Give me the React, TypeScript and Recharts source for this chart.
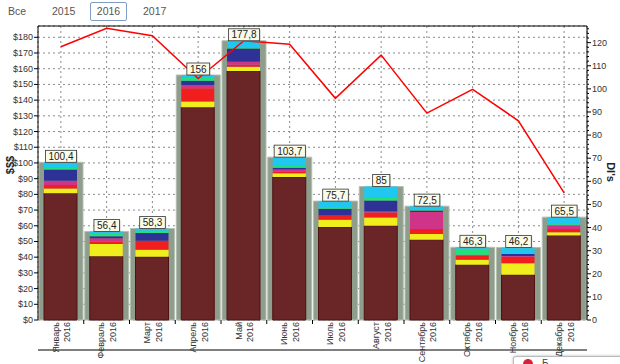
import React from 'react';
import { ComposedChart, Bar, Line, XAxis, YAxis, CartesianGrid, LabelList, ReferenceLine } from 'recharts';

const months = ['Январь', 'Февраль', 'Март', 'Апрель', 'Май', 'Июнь', 'Июль', 'Август', 'Сентябрь', 'Октябрь', 'Ноябрь', 'Декабрь'];
const yearLabel = '2016';
const totals = [100.4, 56.4, 58.3, 156, 177.8, 103.7, 75.7, 85, 72.5, 46.3, 46.2, 65.5];
const maroon = [80.7, 40.6, 40.2, 135.5, 158.6, 91.0, 59.2, 60.0, 51.1, 35.2, 28.8, 53.8];
const yellow = [3.1, 7.8, 4.6, 3.6, 2.7, 2.4, 4.6, 5.3, 3.6, 3.2, 7.4, 2.1];
const red = [2.2, 1.5, 5.7, 8.5, 1.3, 1.0, 2.7, 3.2, 3.2, 2.5, 4.0, 2.1];
const magenta = [2.7, 2.2, 0, 2.1, 1.9, 1.5, 0, 0.6, 10.8, 0.6, 0.6, 2.1];
const blue = [7.2, 1.3, 4.9, 2.7, 8.3, 1.0, 4.3, 7.0, 1.0, 0, 1.3, 0.3];
const green = [0.9, 1.6, 1.5, 1.9, 0.4, 1.3, 1.1, 1.9, 0.5, 3.8, 0, 0.6];
const cyan = [3.6, 1.4, 1.4, 1.7, 4.6, 5.5, 3.8, 7.0, 2.3, 1.0, 4.1, 4.5];
const dts = [118.2, 126.2, 123, 104.5, 120.8, 119.3, 95.9, 114.6, 89.5, 99.8, 86.2, 55];

const leftTicks = [0, 10, 20, 30, 40, 50, 60, 70, 80, 90, 100, 110, 120, 130, 140, 150, 160, 170, 180];
const rightTicks = Array.from({ length: 64 }, (_, i) => i * 2);
const tabs = ['Все', '2015', '2016', '2017'];
const tabX = [8, 52, 97, 143];
const leftTitle = '$$$';
const rightTitle = "DI's";

const data = months.map((m, i) => ({
  m,
  total: totals[i],
  maroon: maroon[i],
  yellow: yellow[i],
  red: red[i],
  magenta: magenta[i],
  blue: blue[i],
  green: green[i],
  cyan: cyan[i],
  dts: dts[i],
}));

const W = 620;
const H = 364;
const PLOT_L = 38;
const PLOT_R = 587;
const PLOT_B = 320;
const BW = (PLOT_R - PLOT_L) / months.length;
const FONT = '"Liberation Sans", Arial, sans-serif';

const LeftTick = ({ x, y, payload }: any) => (
  <g>
    <line x1={x - 4} x2={x} y1={y} y2={y} stroke="#000" />
    <text x={x - 5} y={y} dy={3} textAnchor="end" fontSize={9} fill="#333" fontFamily={FONT}>
      {'$' + payload.value}
    </text>
  </g>
);

const RightTick = ({ x, y, payload }: any) => {
  const major = payload.value % 10 === 0;
  return (
    <g>
      <line x1={x} x2={x + (major ? 4 : 2)} y1={y} y2={y} stroke="#000" />
      {major && (
        <text x={x + 5} y={y} dy={3} fontSize={9} fill="#333" fontFamily={FONT}>
          {payload.value}
        </text>
      )}
    </g>
  );
};

const XTick = ({ x, payload, index }: any) => {
  const px1 = x - 2.3;
  const px2 = x + 9.5;
  const py = PLOT_B + 2;
  return (
    <g>
      {index < months.length - 1 && (
        <line x1={x + BW / 2} x2={x + BW / 2} y1={PLOT_B} y2={PLOT_B + 4} stroke="#000" />
      )}
      <text transform={`rotate(-90 ${px1} ${py})`} x={px1} y={py} textAnchor="end" fontSize={9} fill="#333" fontFamily={FONT}>
        {payload.value}
      </text>
      <text transform={`rotate(-90 ${px2} ${py})`} x={px2} y={py} textAnchor="end" fontSize={9} fill="#333" fontFamily={FONT}>
        {yearLabel}
      </text>
    </g>
  );
};

const TotalLabel = ({ x, y, width, value }: any) => {
  const s = String(value).replace('.', ',');
  const digits = s.replace(',', '').length;
  const commas = s.length - digits;
  const w = Math.max(17, digits * 5.6 + commas * 2.8 + 6);
  const cx = x + width / 2;
  return (
    <g>
      <rect x={cx - w / 2 + 1} y={y - 11} width={w} height={12} fill="#999" opacity={0.5} />
      <rect x={cx - w / 2} y={y - 12} width={w} height={12} fill="#fbfbe8" stroke="#333" strokeWidth={0.8} />
      <text x={cx} y={y - 2.5} textAnchor="middle" fontSize={10} fill="#222" fontFamily={FONT}>
        {s}
      </text>
    </g>
  );
};

export default function App() {
  return (
    <div style={{ position: 'absolute', left: 0, top: 0, width: W, height: H, background: '#fff', overflow: 'hidden', fontFamily: FONT }}>
      {tabs.map((t, i) => (
        <div
          key={t}
          style={{
            position: 'absolute',
            left: i === 2 ? 90 : tabX[i],
            top: i === 2 ? 2 : 3,
            width: i === 2 ? 35 : undefined,
            height: i === 2 ? 17 : undefined,
            lineHeight: i === 2 ? '17px' : '16px',
            textAlign: 'center',
            fontSize: 10.5,
            color: '#555',
            border: i === 2 ? '1px solid #7f9dc4' : 'none',
            borderRadius: 2,
            boxSizing: 'content-box',
          }}
        >
          {t}
        </div>
      ))}
      <div style={{ position: 'absolute', left: 0, top: 0 }}>
        <ComposedChart width={W} height={H} data={data} margin={{ top: 26, right: 0, left: 0, bottom: 0 }} style={{ fontFamily: FONT }}>
          <CartesianGrid xAxisId="main" yAxisId="left" stroke="#8a8a8a" strokeDasharray="2 3" />
          <XAxis xAxisId="main" dataKey="m" interval={0} height={44} tickSize={0} tickMargin={0} tickLine={false} axisLine={{ stroke: '#000' }} tick={<XTick />} />
          <XAxis xAxisId="bg" dataKey="m" hide />
          <YAxis yAxisId="left" orientation="left" width={38} domain={[0, 187.2]} ticks={leftTicks} interval={0} tickSize={0} tickMargin={0} tickLine={false} axisLine={{ stroke: '#000' }} tick={<LeftTick />} />
          <YAxis yAxisId="right" orientation="right" width={33} domain={[0, 127.2]} ticks={rightTicks} interval={0} tickSize={0} tickMargin={0} tickLine={false} axisLine={{ stroke: '#000' }} tick={<RightTick />} />
          <Bar xAxisId="bg" yAxisId="left" dataKey="total" barSize={44} fill="#8f9d8d" stroke="#b5c0b3" strokeWidth={1} isAnimationActive={false}>
            <LabelList dataKey="total" content={<TotalLabel />} />
          </Bar>
          <Bar xAxisId="main" yAxisId="left" stackId="s" dataKey="maroon" barSize={33} fill="#6a2626" stroke="#4e1212" strokeWidth={1} isAnimationActive={false} />
          <Bar xAxisId="main" yAxisId="left" stackId="s" dataKey="yellow" barSize={33} fill="#f0ee1c" isAnimationActive={false} />
          <Bar xAxisId="main" yAxisId="left" stackId="s" dataKey="red" barSize={33} fill="#f01e1e" isAnimationActive={false} />
          <Bar xAxisId="main" yAxisId="left" stackId="s" dataKey="magenta" barSize={33} fill="#cf3488" isAnimationActive={false} />
          <Bar xAxisId="main" yAxisId="left" stackId="s" dataKey="blue" barSize={33} fill="#2e3196" isAnimationActive={false} />
          <Bar xAxisId="main" yAxisId="left" stackId="s" dataKey="green" barSize={33} fill="#22e07c" isAnimationActive={false} />
          <Bar xAxisId="main" yAxisId="left" stackId="s" dataKey="cyan" barSize={33} fill="#1ec8f0" isAnimationActive={false} />
          <Line xAxisId="main" yAxisId="right" dataKey="dts" type="linear" stroke="#ff0000" strokeWidth={1.5} dot={false} isAnimationActive={false} />
          <ReferenceLine xAxisId="main" yAxisId="left" y={187.2} stroke="#000" />
        </ComposedChart>
      </div>
      <div style={{ position: 'absolute', left: 10, top: 165, transform: 'translate(-50%, -50%) rotate(-90deg)', fontSize: 11, fontWeight: 'bold', color: '#222', whiteSpace: 'nowrap' }}>
        {leftTitle}
      </div>
      <div style={{ position: 'absolute', left: 611, top: 172, transform: 'translate(-50%, -50%) rotate(90deg)', fontSize: 11, fontWeight: 'bold', color: '#222', whiteSpace: 'nowrap' }}>
        {rightTitle}
      </div>
      <div style={{ position: 'absolute', left: 513, top: 356, width: 130, height: 24, background: '#fff', border: '1px solid #bbb', borderRadius: 3, boxShadow: '0 0 3px rgba(0,0,0,0.3)' }}>
        <div style={{ position: 'absolute', left: 9, top: 2, width: 10, height: 10, borderRadius: 5, background: '#d8203a' }} />
        <div style={{ position: 'absolute', left: 28, top: 1, fontSize: 10, color: '#444' }}>Б</div>
      </div>
    </div>
  );
}
